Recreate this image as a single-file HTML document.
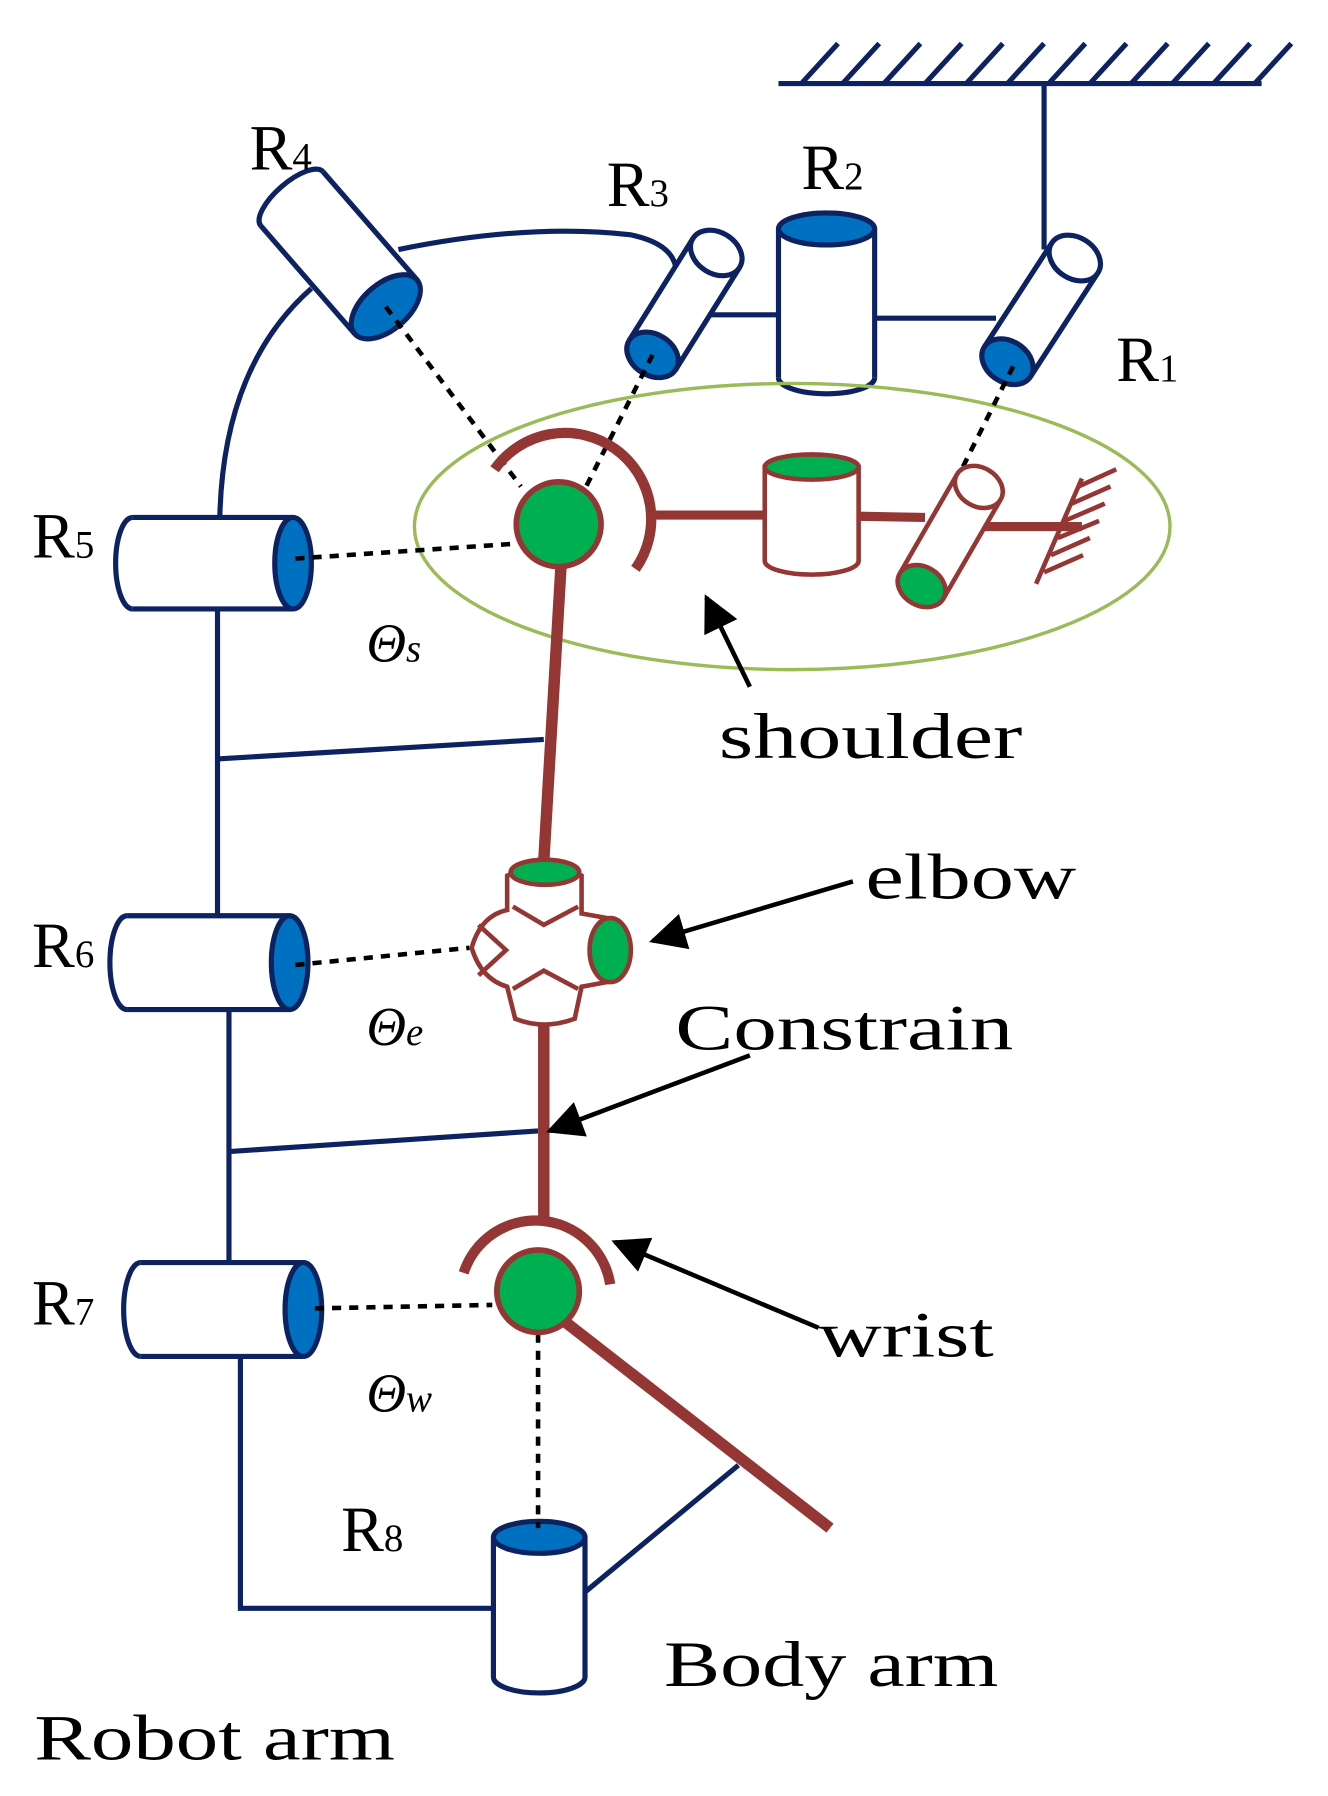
<!DOCTYPE html>
<html><head><meta charset="utf-8"><style>
html,body{margin:0;padding:0;background:#fff}
svg{display:block}
text{font-family:"Liberation Serif",serif;fill:#000}
</style></head><body>
<svg width="1328" height="1796" viewBox="0 0 1160 1569" preserveAspectRatio="none" xmlns="http://www.w3.org/2000/svg">
<defs>
<marker id="ah" viewBox="0 0 10 10" refX="9" refY="5" markerWidth="9" markerHeight="8" orient="auto"><path d="M0,0 L10,5 L0,10 z" fill="#000"/></marker>
</defs>
<g stroke="#0d2260" stroke-width="4.5" fill="none">
<line x1="680" y1="73" x2="1102" y2="73"/>
<path d="M700,73 L732,38 M736,73 L768,38 M772,73 L804,38 M808,73 L840,38 M844,73 L876,38 M880,73 L912,38 M916,73 L948,38 M952,73 L984,38 M988,73 L1020,38 M1024,73 L1056,38 M1060,73 L1092,38 M1096,73 L1128,38"/>
<line x1="912" y1="73" x2="912" y2="218"/>
<path d="M348,218 Q460,195 550,205 Q585,212 590,232"/>
<path d="M192,452 Q195,320 272,252"/>
<line x1="190" y1="532" x2="190" y2="800"/>
<line x1="200" y1="882" x2="200" y2="1103"/>
<polyline points="210,1185 210,1405 432,1405"/>
<line x1="190" y1="663" x2="475" y2="646"/>
<line x1="200" y1="1006" x2="470" y2="988"/>
<line x1="620" y1="275" x2="680" y2="275"/>
<line x1="765" y1="278" x2="870" y2="278"/>
<line x1="512" y1="1390" x2="645" y2="1280"/>
</g>
<g stroke="#0d2260" stroke-width="4.5">
<g transform="translate(880,316) rotate(-57)">
<path d="M0,-24 L108,-24 L108,24 L0,24 z" fill="#fff" stroke="none"/>
<line x1="0" y1="-24" x2="108" y2="-24"/><line x1="0" y1="24" x2="108" y2="24"/>
<ellipse cx="108" cy="0" rx="18" ry="24" fill="#fff"/>
<ellipse cx="0" cy="0" rx="18" ry="24" fill="#0070c0"/>
</g>
<g transform="translate(570,310) rotate(-58)">
<path d="M0,-24 L105,-24 L105,24 L0,24 z" fill="#fff" stroke="none"/>
<line x1="0" y1="-24" x2="105" y2="-24"/><line x1="0" y1="24" x2="105" y2="24"/>
<ellipse cx="105" cy="0" rx="18" ry="24" fill="#fff"/>
<ellipse cx="0" cy="0" rx="18" ry="24" fill="#0070c0"/>
</g>
<g transform="translate(337,268) rotate(-131)">
<path d="M0,-36 L125,-36 L125,36 L0,36 z" fill="#fff" stroke="none"/>
<line x1="0" y1="-36" x2="125" y2="-36"/><line x1="0" y1="36" x2="125" y2="36"/>
<path d="M125,-36 A14 36 0 0 1 125,36" fill="none"/>
<ellipse cx="0" cy="0" rx="20" ry="36" fill="#0070c0"/>
</g>
<g transform="translate(256,492) rotate(180)">
<path d="M0,-40 L140,-40 L140,40 L0,40 z" fill="#fff" stroke="none"/>
<line x1="0" y1="-40" x2="140" y2="-40"/><line x1="0" y1="40" x2="140" y2="40"/>
<path d="M140,-40 A15 40 0 0 1 140,40" fill="none"/>
<ellipse cx="0" cy="0" rx="16" ry="40" fill="#0070c0"/>
</g>
<g transform="translate(253,841) rotate(180)">
<path d="M0,-41 L142,-41 L142,41 L0,41 z" fill="#fff" stroke="none"/>
<line x1="0" y1="-41" x2="142" y2="-41"/><line x1="0" y1="41" x2="142" y2="41"/>
<path d="M142,-41 A15 41 0 0 1 142,41" fill="none"/>
<ellipse cx="0" cy="0" rx="16" ry="41" fill="#0070c0"/>
</g>
<g transform="translate(265,1144) rotate(180)">
<path d="M0,-41 L142,-41 L142,41 L0,41 z" fill="#fff" stroke="none"/>
<line x1="0" y1="-41" x2="142" y2="-41"/><line x1="0" y1="41" x2="142" y2="41"/>
<path d="M142,-41 A15 41 0 0 1 142,41" fill="none"/>
<ellipse cx="0" cy="0" rx="16" ry="41" fill="#0070c0"/>
</g>
<g transform="translate(722,200) rotate(90)">
<path d="M0,-42 L130,-42 L130,42 L0,42 z" fill="#fff" stroke="none"/>
<line x1="0" y1="-42" x2="130" y2="-42"/><line x1="0" y1="42" x2="130" y2="42"/>
<path d="M130,-42 A14 42 0 0 1 130,42" fill="none"/>
<ellipse cx="0" cy="0" rx="14" ry="42" fill="#0070c0"/>
</g>
<g transform="translate(471,1343) rotate(90)">
<path d="M0,-40 L122,-40 L122,40 L0,40 z" fill="#fff" stroke="none"/>
<line x1="0" y1="-40" x2="122" y2="-40"/><line x1="0" y1="40" x2="122" y2="40"/>
<path d="M122,-40 A14 40 0 0 1 122,40" fill="none"/>
<ellipse cx="0" cy="0" rx="14" ry="40" fill="#0070c0"/>
</g>
</g>
<ellipse cx="692" cy="460" rx="330" ry="125" fill="none" stroke="#9bbb59" stroke-width="3"/>
<g stroke="#000" stroke-width="4" stroke-dasharray="8,7" fill="none">
<line x1="337" y1="268" x2="455" y2="425"/>
<line x1="570" y1="310" x2="512" y2="425"/>
<line x1="885" y1="320" x2="835" y2="420"/>
<line x1="258" y1="488" x2="450" y2="475"/>
<line x1="258" y1="843" x2="410" y2="828"/>
<line x1="275" y1="1143" x2="430" y2="1140"/>
<line x1="470" y1="1165" x2="470" y2="1335"/>
</g>
<g stroke="#943634" fill="none">
<line x1="490" y1="495" x2="475" y2="752" stroke-width="10"/>
<line x1="475" y1="890" x2="475" y2="1068" stroke-width="10"/>
<line x1="490" y1="1152" x2="725" y2="1335" stroke-width="10"/>
<path d="M432,410 A75 75 0 1 1 555,497" stroke-width="9"/>
<path d="M405,1112 A66 66 0 0 1 533,1122" stroke-width="9"/>
<line x1="568" y1="450" x2="668" y2="450" stroke-width="8"/>
<line x1="750" y1="451" x2="808" y2="452" stroke-width="8"/>
<line x1="860" y1="460" x2="945" y2="460" stroke-width="8"/>
<g stroke-width="4">
<line x1="945" y1="418" x2="905" y2="510"/>
<path d="M942,425 L975,410 M936,440 L970,425 M930,455 L965,440 M924,470 L960,455 M918,485 L952,470 M912,500 L946,485"/>
</g>
</g>
<circle cx="488" cy="458" r="37" fill="#00b050" stroke="#943634" stroke-width="5"/>
<circle cx="470" cy="1128" r="36" fill="#00b050" stroke="#943634" stroke-width="5"/>
<g stroke="#943634" stroke-width="4">
<path d="M668,408 L668,490 A41 12 0 0 0 750,490 L750,408 z" fill="#fff"/>
<ellipse cx="709" cy="408" rx="41" ry="11" fill="#00b050"/>
<g transform="translate(805,512) rotate(-60)">
<path d="M0,-22 L100,-22 L100,22 L0,22 z" fill="#fff" stroke="none"/>
<line x1="0" y1="-22" x2="100" y2="-22"/><line x1="0" y1="22" x2="100" y2="22"/>
<ellipse cx="100" cy="0" rx="17" ry="22" fill="#fff"/>
<ellipse cx="0" cy="0" rx="17" ry="22" fill="#00b050"/>
</g>
</g>
<g stroke="#943634" stroke-width="4">
<path d="M443,765 L443,795 Q420,800 412,828 Q420,855 443,862 L450,890 Q475,900 502,890 L508,862 L530,858 L530,802 L508,798 L508,765 Q475,752 443,765 z" fill="#fff"/>
<path d="M448,792 L475,808 L505,792 M448,864 L475,848 L505,864 M418,808 L442,830 L418,852" fill="none"/>
<ellipse cx="476" cy="762" rx="30" ry="11" fill="#00b050"/>
<ellipse cx="533" cy="830" rx="18" ry="28" fill="#00b050"/>
</g>
<g stroke="#000" stroke-width="4" fill="none" marker-end="url(#ah)">
<line x1="655" y1="600" x2="617" y2="522"/>
<line x1="745" y1="770" x2="570" y2="822"/>
<line x1="655" y1="922" x2="480" y2="988"/>
<line x1="715" y1="1160" x2="537" y2="1085"/>
</g>
<g font-size="56">
<text x="218" y="148">R<tspan font-size="34">4</tspan></text>
<text x="530" y="180">R<tspan font-size="34">3</tspan></text>
<text x="700" y="165">R<tspan font-size="34">2</tspan></text>
<text x="975" y="333">R<tspan font-size="34">1</tspan></text>
<text x="28" y="487">R<tspan font-size="34">5</tspan></text>
<text x="28" y="845">R<tspan font-size="34">6</tspan></text>
<text x="28" y="1157">R<tspan font-size="34">7</tspan></text>
<text x="298" y="1355">R<tspan font-size="34">8</tspan></text>
<text x="628" y="662" textLength="265" lengthAdjust="spacingAndGlyphs">shoulder</text>
<text x="756" y="785" textLength="184" lengthAdjust="spacingAndGlyphs">elbow</text>
<text x="590" y="917" textLength="295" lengthAdjust="spacingAndGlyphs">Constrain</text>
<text x="715" y="1185" textLength="153" lengthAdjust="spacingAndGlyphs">wrist</text>
<text x="580" y="1473" textLength="292" lengthAdjust="spacingAndGlyphs">Body arm</text>
<text x="30" y="1537" textLength="315" lengthAdjust="spacingAndGlyphs">Robot arm</text>
</g>
<g font-size="48" font-style="italic">
<text x="320" y="578">Θ<tspan font-size="34">s</tspan></text>
<text x="320" y="913">Θ<tspan font-size="34">e</tspan></text>
<text x="320" y="1233">Θ<tspan font-size="34">w</tspan></text>
</g>
</svg>
</body></html>
